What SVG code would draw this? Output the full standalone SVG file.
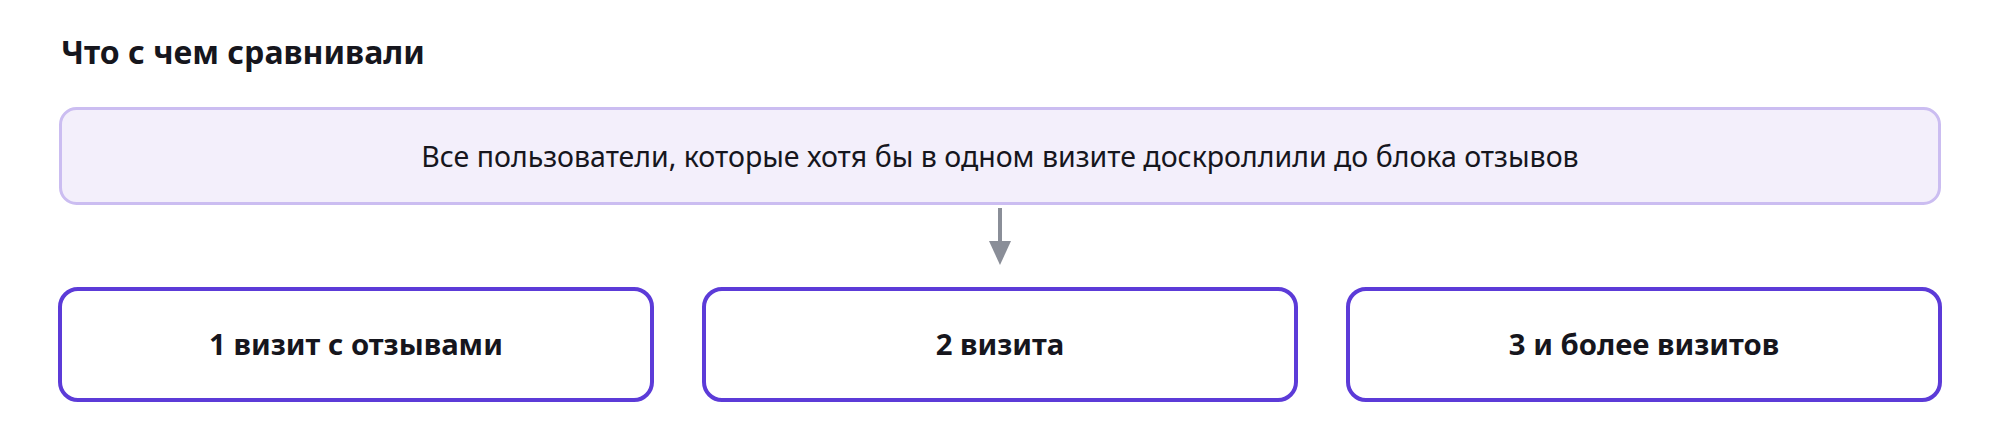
<svg xmlns="http://www.w3.org/2000/svg" width="2000" height="448" viewBox="0 0 2000 448">
<style>
text{font-family:"Segoe UI","Noto Sans","Open Sans",sans-serif;fill:#16161d}
.title{font-size:32px;font-weight:700}
.top{font-size:28.5px;font-weight:400}
.lbl{font-size:29.3px;font-weight:700}
.topbox{fill:#f3effb;stroke:#cbbdf1;stroke-width:3}
.box{fill:#ffffff;stroke:#5c3bd8;stroke-width:4}
</style>
<defs>
<marker id="ah" markerWidth="24" markerHeight="22" refX="0" refY="11" orient="auto" markerUnits="userSpaceOnUse" viewBox="0 0 24 22">
<path d="M0,0 L24,11 L0,22 Z" fill="#8a8e98"/>
</marker>
</defs>
<rect width="2000" height="448" fill="#ffffff"/>
<g id="heading"><text class="title" x="61" y="64">Что с чем сравнивали</text></g>
<g id="all-users">
<rect class="topbox" x="60.5" y="108.5" width="1879" height="95" rx="16"/>
<text class="top" x="1000" y="167" text-anchor="middle">Все пользователи, которые хотя бы в одном визите доскроллили до блока отзывов</text>
</g>
<g id="connectors">
<path d="M1000,208 L1000,241" stroke="#8a8e98" stroke-width="4" fill="none" marker-end="url(#ah)"/>
</g>
<g id="visit1">
<rect class="box" x="60" y="289" width="592" height="111" rx="18"/>
<text class="lbl" x="356" y="355" text-anchor="middle">1 визит с отзывами</text>
</g>
<g id="visit2">
<rect class="box" x="704" y="289" width="592" height="111" rx="18"/>
<text class="lbl" x="1000" y="355" text-anchor="middle">2 визита</text>
</g>
<g id="visit3">
<rect class="box" x="1348" y="289" width="592" height="111" rx="18"/>
<text class="lbl" x="1644" y="355" text-anchor="middle">3 и более визитов</text>
</g>
</svg>
